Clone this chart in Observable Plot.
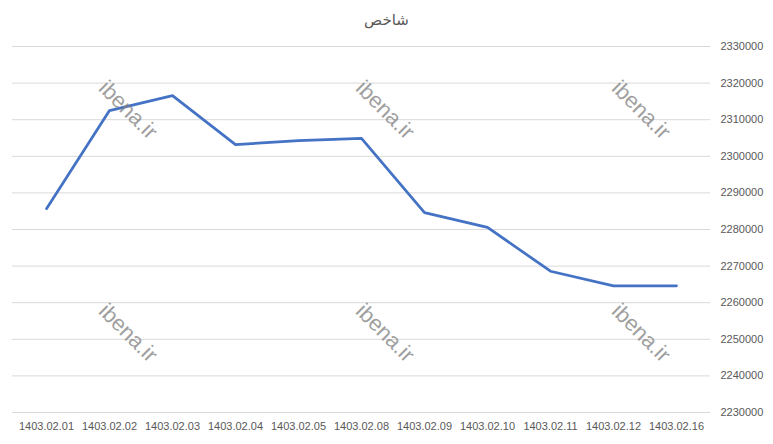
<!DOCTYPE html>
<html><head><meta charset="utf-8">
<script src="https://cdn.jsdelivr.net/npm/d3@7"></script>
<script src="https://cdn.jsdelivr.net/npm/@observablehq/plot@0.6"></script>
<style>
body{margin:0;background:#fff;font-family:"Liberation Sans",sans-serif;}
#wrap{position:relative;width:773px;height:444px;overflow:hidden;}
#title{height:36px;line-height:38px;text-align:center;font-size:15px;color:#595959;font-family:"Noto Sans","DejaVu Sans",sans-serif;}
.wm{position:absolute;font-family:"Liberation Sans",sans-serif;font-size:22px;color:rgba(128,128,128,0.75);transform:translate(-50%,-50%) rotate(45deg);white-space:nowrap;pointer-events:none;}
</style></head>
<body>
<div id="wrap">
<div id="title">شاخص</div>
<div id="chart"></div>
</div>
<script>
const dates = ["1403.02.01","1403.02.02","1403.02.03","1403.02.04","1403.02.05","1403.02.08","1403.02.09","1403.02.10","1403.02.11","1403.02.12","1403.02.16"];
const values = [2285700,2312500,2316600,2303200,2304300,2304900,2284600,2280600,2268600,2264600,2264600];
const yTicks = [2230000,2240000,2250000,2260000,2270000,2280000,2290000,2300000,2310000,2320000,2330000];
const watermark = "ibena.ir";

const data = dates.map((d,i)=>({date:d, value:values[i]}));

const plot = Plot.plot({
  width: 773,
  height: 408,
  marginTop: 10,
  marginBottom: 32,
  marginLeft: 12,
  marginRight: 63,
  style: {fontFamily: '"Liberation Sans",sans-serif', fontSize: "11px", color: "#595959", background: "transparent"},
  x: {type: "point", domain: dates, padding: 0.5, label: null},
  y: {domain: [2230000, 2330000], label: null},
  marks: [
    Plot.gridY(yTicks, {stroke: "#d9d9d9", strokeOpacity: 1, strokeWidth: 1}),
    Plot.axisY(yTicks, {anchor: "right", tickSize: 0, tickPadding: 10, tickFormat: d => String(d), fill: "#595959", label: null}),
    Plot.axisX({anchor: "bottom", tickSize: 0, tickPadding: 10, fill: "#595959", label: null}),
    Plot.line(data, {x: "date", y: "value", stroke: "#4472C4", strokeWidth: 2.75, strokeLinejoin: "round", strokeLinecap: "round"})
  ]
});
document.getElementById("chart").appendChild(plot);

// watermark overlays
const wrap = document.getElementById("wrap");
[[128,110],[385,110],[641,110],[128,333],[385,333],[641,333]].forEach(([l,t])=>{
  const el = document.createElement("div");
  el.className = "wm"; el.textContent = watermark;
  el.style.left = l + "px"; el.style.top = t + "px";
  wrap.appendChild(el);
});
</script>
</body></html>
